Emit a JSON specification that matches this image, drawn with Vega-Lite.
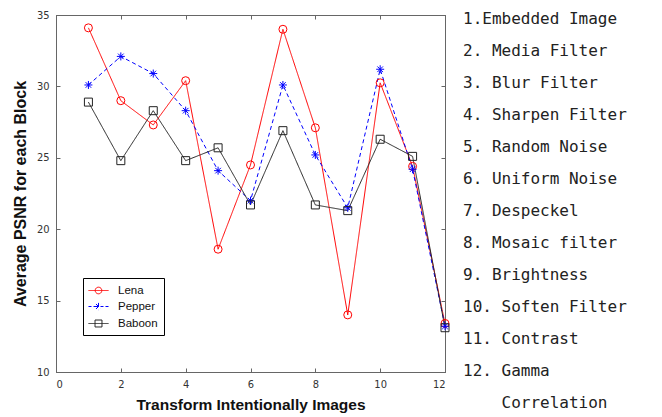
{
  "$schema": "https://vega.github.io/schema/vega-lite/v6.json",
  "background": "white",
  "padding": {"left": 11, "top": 8, "right": 0, "bottom": 0},
  "spacing": 18,
  "bounds": "flush",
  "config": {
    "view": {"stroke": null},
    "axis": {
      "grid": false,
      "domainColor": "#666666",
      "domainWidth": 1,
      "tickColor": "#666666",
      "tickSize": -4,
      "tickWidth": 1,
      "labelFont": "Liberation Sans Narrow, DejaVu Sans Condensed, Liberation Sans",
      "labelFontSize": 11,
      "labelColor": "#333333",
      "titleFont": "Liberation Sans",
      "titleFontSize": 16,
      "titleFontWeight": "bold",
      "titleColor": "#111111"
    }
  },
  "hconcat": [
    {
      "width": 389,
      "height": 357,
      "view": {"stroke": "#666666", "strokeWidth": 1},
      "data": {
        "values": [
          {"t": 1, "series": "Lena", "psnr": 34.1},
          {"t": 2, "series": "Lena", "psnr": 29.0},
          {"t": 3, "series": "Lena", "psnr": 27.3},
          {"t": 4, "series": "Lena", "psnr": 30.4},
          {"t": 5, "series": "Lena", "psnr": 18.6},
          {"t": 6, "series": "Lena", "psnr": 24.5},
          {"t": 7, "series": "Lena", "psnr": 34.0},
          {"t": 8, "series": "Lena", "psnr": 27.1},
          {"t": 9, "series": "Lena", "psnr": 14.0},
          {"t": 10, "series": "Lena", "psnr": 30.25},
          {"t": 11, "series": "Lena", "psnr": 24.4},
          {"t": 12, "series": "Lena", "psnr": 13.4},
          {"t": 1, "series": "Pepper", "psnr": 30.1},
          {"t": 2, "series": "Pepper", "psnr": 32.1},
          {"t": 3, "series": "Pepper", "psnr": 30.9},
          {"t": 4, "series": "Pepper", "psnr": 28.3},
          {"t": 5, "series": "Pepper", "psnr": 24.1},
          {"t": 6, "series": "Pepper", "psnr": 22.0},
          {"t": 7, "series": "Pepper", "psnr": 30.1},
          {"t": 8, "series": "Pepper", "psnr": 25.2},
          {"t": 9, "series": "Pepper", "psnr": 21.5},
          {"t": 10, "series": "Pepper", "psnr": 31.2},
          {"t": 11, "series": "Pepper", "psnr": 24.2},
          {"t": 12, "series": "Pepper", "psnr": 13.2},
          {"t": 1, "series": "Baboon", "psnr": 28.9},
          {"t": 2, "series": "Baboon", "psnr": 24.8},
          {"t": 3, "series": "Baboon", "psnr": 28.3},
          {"t": 4, "series": "Baboon", "psnr": 24.8},
          {"t": 5, "series": "Baboon", "psnr": 25.7},
          {"t": 6, "series": "Baboon", "psnr": 21.7},
          {"t": 7, "series": "Baboon", "psnr": 26.9},
          {"t": 8, "series": "Baboon", "psnr": 21.7},
          {"t": 9, "series": "Baboon", "psnr": 21.3},
          {"t": 10, "series": "Baboon", "psnr": 26.3},
          {"t": 11, "series": "Baboon", "psnr": 25.1},
          {"t": 12, "series": "Baboon", "psnr": 13.1}
        ]
      },
      "layer": [
        {
          "mark": {"type": "line", "strokeWidth": 1},
          "encoding": {
            "x": {
              "field": "t", "type": "quantitative",
              "scale": {"domain": [0, 12], "nice": false, "zero": false},
              "axis": {"orient": "bottom", "values": [0, 2, 4, 6, 8, 10, 12], "labelPadding": 10, "title": "Transform Intentionally Images", "titlePadding": 8, "titleFontSize": 15.5}
            },
            "y": {
              "field": "psnr", "type": "quantitative",
              "scale": {"domain": [10, 35], "nice": false, "zero": false},
              "axis": {"orient": "left", "values": [10, 15, 20, 25, 30, 35], "labelPadding": 11, "title": "Average PSNR for each Block", "titlePadding": 8}
            },
            "color": {
              "field": "series", "type": "nominal",
              "scale": {"domain": ["Lena", "Pepper", "Baboon"], "range": ["#ff0000", "#0000ff", "#222222"]},
              "legend": {
                "orient": "none",
                "legendX": 27,
                "legendY": 263,
                "title": null,
                "direction": "vertical",
                "strokeColor": "#000000",
                "fillColor": "white",
                "padding": 6,
                "cornerRadius": 0,
                "symbolSize": 144,
                "symbolStrokeWidth": 1,
                "symbolOffset": 3,
                "labelOffset": 13,
                "rowPadding": 4,
                "labelFont": "Liberation Sans",
                "labelFontSize": 11.5,
                "labelColor": "#111111",
                "encode": {
                  "symbols": {
                    "update": {
                      "shape": {"signal": "datum.value === 'Lena' ? 'M-1.667,0L1.667,0M0.55,0A0.55,0.55,0,1,1,-0.55,0A0.55,0.55,0,1,1,0.55,0' : datum.value === 'Pepper' ? 'M-1.667,0L-1.167,0M-0.833,0L-0.333,0M0.333,0L0.833,0M1.167,0L1.667,0M0,-0.6L0,0.6M-0.6,0L0.6,0M-0.42,-0.42L0.42,0.42M-0.42,0.42L0.42,-0.42' : 'M-1.667,0L1.667,0M-0.58,-0.58L0.58,-0.58L0.58,0.58L-0.58,0.58Z'"},
                      "fill": {"value": "transparent"},
                      "stroke": {"scale": "color", "field": "value"},
                      "strokeDash": {"value": [1, 0]},
                      "opacity": {"value": 1}
                    }
                  }
                }
              }
            },
            "strokeDash": {
              "field": "series", "type": "nominal",
              "scale": {"domain": ["Lena", "Pepper", "Baboon"], "range": [[1, 0], [4, 3], [1, 0]]},
              "legend": null
            }
          }
        },
        {
          "transform": [{"filter": "datum.series === 'Lena'"}],
          "mark": {"type": "point", "filled": false, "strokeWidth": 1, "size": 64, "opacity": 1, "shape": "circle", "color": "#ff0000"},
          "encoding": {
            "x": {
              "field": "t", "type": "quantitative",
              "axis": {"orient": "top", "values": [0, 2, 4, 6, 8, 10, 12], "labels": false, "title": null}
            },
            "y": {
              "field": "psnr", "type": "quantitative",
              "axis": {"orient": "right", "values": [10, 15, 20, 25, 30, 35], "labels": false, "title": null}
            }
          }
        },
        {
          "transform": [{"filter": "datum.series === 'Pepper'"}],
          "mark": {"type": "point", "filled": false, "strokeWidth": 1, "size": 64, "opacity": 1, "shape": "M0,-1L0,1M-1,0L1,0M-0.7,-0.7L0.7,0.7M-0.7,0.7L0.7,-0.7", "color": "#0000ff"},
          "encoding": {
            "x": {"field": "t", "type": "quantitative", "axis": null},
            "y": {"field": "psnr", "type": "quantitative", "axis": null}
          }
        },
        {
          "transform": [{"filter": "datum.series === 'Baboon'"}],
          "mark": {"type": "point", "filled": false, "strokeWidth": 1, "size": 64, "opacity": 1, "shape": "square", "color": "#222222"},
          "encoding": {
            "x": {"field": "t", "type": "quantitative", "axis": null},
            "y": {"field": "psnr", "type": "quantitative", "axis": null}
          }
        }
      ],
      "resolve": {"axis": {"x": "independent", "y": "independent"}}
    },
    {
      "width": 195,
      "height": 357,
      "data": {
        "values": [
          {"n": 1, "indent": 0, "label": "1.Embedded Image"},
          {"n": 2, "indent": 0, "label": "2. Media Filter"},
          {"n": 3, "indent": 0, "label": "3. Blur Filter"},
          {"n": 4, "indent": 0, "label": "4. Sharpen Filter"},
          {"n": 5, "indent": 0, "label": "5. Random Noise"},
          {"n": 6, "indent": 0, "label": "6. Uniform Noise"},
          {"n": 7, "indent": 0, "label": "7. Despeckel"},
          {"n": 8, "indent": 0, "label": "8. Mosaic filter"},
          {"n": 9, "indent": 0, "label": "9. Brightness"},
          {"n": 10, "indent": 0, "label": "10. Soften Filter"},
          {"n": 11, "indent": 0, "label": "11. Contrast"},
          {"n": 12, "indent": 0, "label": "12. Gamma"},
          {"n": 13, "indent": 4, "label": "Correlation"}
        ]
      },
      "mark": {"type": "text", "align": "left", "baseline": "middle", "font": "DejaVu Sans Mono", "fontSize": 16, "color": "#222222"},
      "encoding": {
        "y": {"field": "n", "type": "quantitative", "scale": {"domain": [1, 13], "range": [4, 388]}, "axis": null},
        "x": {"field": "indent", "type": "quantitative", "scale": {"domain": [0, 20], "range": [0, 192.6]}, "axis": null},
        "text": {"field": "label"}
      }
    }
  ]
}
